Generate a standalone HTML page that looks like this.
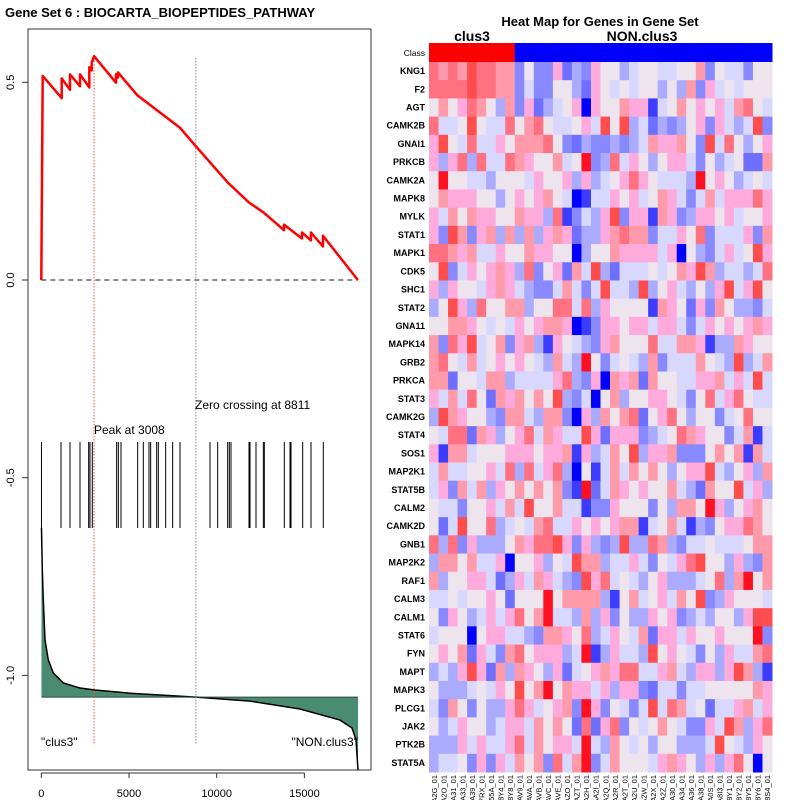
<!DOCTYPE html>
<html><head><meta charset="utf-8">
<style>
html,body{margin:0;padding:0;background:#fff;}
svg{display:block;font-family:"Liberation Sans",sans-serif;}
</style></head>
<body>
<svg id="chart" width="800" height="800" viewBox="0 0 800 800" xmlns="http://www.w3.org/2000/svg">
  <rect x="0" y="0" width="800" height="800" fill="#fff"/>
  <text x="5" y="17" font-size="13" font-weight="bold">Gene Set  6 : BIOCARTA_BIOPEPTIDES_PATHWAY</text>
  <rect x="28" y="29" width="343" height="741" fill="none" stroke="#333" stroke-width="1"/>
  <g id="ytick-g"></g>
  <g id="xtick-g"></g>
  <g id="metric-g"></g>
  <g id="hits-g"></g>
  <g id="es-g"></g>
  <text x="94" y="434" font-size="12">Peak at 3008</text>
  <text x="195" y="409" font-size="12">Zero crossing at 8811</text>
  <text x="41" y="746" font-size="12">"clus3"</text>
  <text x="358" y="746" font-size="12" text-anchor="end">"NON.clus3"</text>

  <text x="600" y="26" font-size="13" font-weight="bold" text-anchor="middle">Heat Map for Genes in Gene Set</text>
  <text x="472" y="41" font-size="14" font-weight="bold" text-anchor="middle">clus3</text>
  <text x="642" y="41" font-size="14" font-weight="bold" text-anchor="middle">NON.clus3</text>
  <text x="425" y="56" font-size="8.5" text-anchor="end">Class</text>
  <g id="heat-g"></g>
</svg>
<script>
// ---- Enrichment plot data ----
const esRanks = [0,0,80,1163,1163,1636,1636,2206,2206,2737,2737,2873,2873,3008,4259,4259,4373,4373,5456,7907,8811,10644,11841,12696,13836,13836,14862,14862,15375,15375,16059,16059,18050];
const esValues = [0,0.0,0.516,0.460,0.510,0.481,0.520,0.490,0.520,0.487,0.538,0.530,0.550,0.566,0.499,0.520,0.512,0.525,0.468,0.385,0.338,0.246,0.196,0.170,0.126,0.140,0.105,0.120,0.100,0.120,0.085,0.112,0];
const hitRanks = [10,1123,1636,2206,2700,2776,2909,4296,4392,4544,5494,5816,6140,6235,6577,6672,7090,7489,7907,9617,10055,10625,10720,10815,11841,11898,12240,12658,12715,13855,14180,14237,14902,15377,16077];
const metricRanks = [10,57,114,211,400,684,1254,2206,3061,5057,8820,11899,14749,17030,17714,17942,18056];
const metricValues = [-0.627,-0.733,-0.809,-0.910,-0.961,-0.994,-1.019,-1.032,-1.037,-1.045,-1.055,-1.065,-1.085,-1.113,-1.133,-1.163,-1.239];
const metricBaseline = -1.055;
const peakRank = 3008;
const zeroRank = 8811;
const xTicks = [0,5000,10000,15000];
const yTicks = [0.5,0.0,-0.5,-1.0];
const yTickLabels = ["0.5","0.0","-0.5","-1.0"];

// ---- Heatmap data (index 0..11 on palette, 6 = neutral) ----
const genes = ["KNG1","F2","AGT","CAMK2B","GNAI1","PRKCB","CAMK2A","MAPK8","MYLK","STAT1","MAPK1","CDK5","SHC1","STAT2","GNA11","MAPK14","GRB2","PRKCA","STAT3","CAMK2G","STAT4","SOS1","MAP2K1","STAT5B","CALM2","CAMK2D","GNB1","MAP2K2","RAF1","CALM3","CALM1","STAT6","FYN","MAPT","MAPK3","PLCG1","JAK2","PTK2B","STAT5A"];
const samples = ["A2G_01","A2O_01","AA31_01","AA33_01","AA39_01","A7RX_01","A55A_01","A8Y4_01","A8Y8_01","AAV9_01","AAVA_01","AAVB_01","AAVC_01","AAVE_01","AAZO_01","AAZT_01","AA2H_01","AA2I_01","AA2Q_01","AA2R_01","AA2T_01","AA2U_01","AA2W_01","AA2X_01","AA2Z_01","AA30_01","AA34_01","AA36_01","AA38_01","AA0S_01","A8I3_01","A8Y1_01","A8Y2_01","A8Y5_01","A8Y6_01","A8S4_01"];
const classes = [1,1,1,1,1,1,1,1,1,0,0,0,0,0,0,0,0,0,0,0,0,0,0,0,0,0,0,0,0,0,0,0,0,0,0,0];
const heatValues = [
[9,8,9,8,10,9,9,8,8,3,6,3,3,7,2,4,3,7,6,6,4,5,6,6,5,5,6,6,8,3,6,5,5,3,6,6],
[9,9,9,9,10,9,9,8,8,3,5,3,3,6,6,4,2,7,6,5,6,5,6,6,4,6,4,8,3,7,5,6,5,6,6,6],
[6,8,6,7,9,8,6,4,8,3,7,2,4,5,6,7,0,7,6,6,8,7,7,1,5,6,8,6,7,6,7,5,8,9,6,5],
[9,5,5,6,10,6,5,5,9,6,8,9,6,5,5,6,7,5,10,6,10,4,5,2,4,3,4,6,7,3,7,5,4,5,10,3],
[7,10,6,5,9,5,5,7,6,8,8,8,9,6,3,2,4,3,3,4,3,4,5,8,7,7,8,6,3,10,5,9,6,4,6,7],
[7,4,7,9,4,9,5,5,9,8,7,6,6,8,5,6,11,3,4,9,5,7,6,4,6,7,7,5,3,6,4,5,6,2,2,8],
[6,11,6,6,5,5,4,6,6,6,5,7,6,6,7,4,7,4,5,6,7,9,7,6,5,5,5,4,11,6,7,6,4,5,6,5],
[6,8,7,7,7,6,6,4,6,7,6,7,8,6,5,0,1,5,5,7,6,7,5,6,8,7,5,3,5,8,5,7,7,7,9,7],
[7,5,8,6,8,7,7,6,6,8,7,7,4,9,1,3,5,4,7,10,3,7,7,1,8,7,3,4,7,7,6,7,5,6,6,7],
[7,3,10,8,3,7,8,4,8,4,8,4,7,8,7,2,4,4,7,8,9,8,8,3,5,5,7,6,9,3,5,5,5,7,3,8],
[9,9,8,7,8,5,5,7,6,6,8,7,7,6,6,0,4,6,6,8,7,7,7,7,5,7,0,6,4,3,5,7,5,6,10,7],
[6,10,3,5,7,6,7,8,7,4,9,3,6,7,2,8,5,10,4,2,5,5,5,6,5,6,8,7,10,8,4,5,5,4,5,9],
[7,4,7,6,6,5,7,8,7,5,4,3,3,5,8,5,3,5,10,5,5,4,10,4,6,7,5,4,6,4,7,10,5,7,10,6],
[4,6,10,7,4,9,6,6,8,8,4,6,6,9,9,5,9,4,7,6,6,6,6,1,8,7,6,2,7,3,8,6,4,4,3,5],
[6,6,8,8,7,6,5,6,5,7,6,7,8,8,7,0,1,3,7,7,6,7,7,5,7,7,5,3,5,7,6,7,6,7,8,7],
[8,3,9,7,10,5,6,8,3,7,8,4,1,7,6,5,4,3,7,8,6,6,6,9,5,5,8,8,7,1,4,4,8,7,6,6],
[8,9,6,5,8,5,6,7,6,7,6,5,4,8,5,4,11,6,3,5,6,5,4,8,3,5,5,5,8,6,5,4,10,4,5,8],
[8,8,2,6,6,5,8,8,4,5,5,5,5,7,9,4,3,7,0,8,7,8,2,8,6,6,5,5,7,7,8,5,7,5,10,5],
[7,5,8,5,9,6,2,8,7,8,6,8,6,10,4,3,5,0,6,8,4,6,6,7,7,6,5,3,6,9,5,7,9,6,5,5],
[4,10,8,7,6,6,4,3,8,8,5,4,8,8,3,0,7,4,8,6,8,9,2,6,7,9,6,4,6,6,3,5,6,9,6,6],
[6,5,9,9,2,8,7,4,6,7,9,5,8,7,5,5,10,7,2,7,7,7,3,4,5,6,9,8,7,6,6,3,5,8,1,5],
[7,1,8,8,5,6,6,6,7,7,7,6,7,7,8,1,7,4,5,8,6,10,4,7,7,8,3,3,3,6,8,6,8,1,8,5],
[5,8,5,5,6,6,7,5,9,4,9,5,7,9,4,0,6,1,5,8,5,8,6,8,6,4,6,7,7,10,5,4,6,7,4,8],
[5,7,3,8,5,8,4,7,6,8,6,8,6,8,3,1,11,2,5,8,7,6,7,6,6,8,5,4,2,8,6,6,10,5,7,4],
[6,5,5,3,6,6,7,5,8,5,10,6,6,8,5,5,1,3,3,7,6,6,6,3,6,4,8,8,6,11,7,4,6,7,8,6],
[6,2,5,10,6,6,9,4,5,6,5,8,9,5,5,7,6,7,6,7,8,8,1,5,6,8,5,1,4,3,6,7,7,9,8,6],
[9,4,9,3,7,4,4,4,6,8,7,9,9,10,7,3,7,4,3,4,10,4,4,9,8,4,3,5,5,6,5,5,5,6,8,8],
[4,8,8,6,8,5,5,7,0,6,6,7,4,6,5,10,8,8,4,5,5,7,5,3,6,5,7,9,10,6,6,4,7,4,3,8],
[8,4,6,6,7,7,5,2,4,7,5,8,7,5,4,3,10,7,9,5,6,5,4,6,7,4,4,4,5,6,9,4,8,11,6,8],
[5,5,6,5,6,6,7,6,2,6,6,6,11,6,8,8,8,8,4,1,6,8,5,6,7,5,8,6,10,3,4,7,6,6,6,5],
[6,3,7,6,4,5,7,5,7,9,6,8,11,5,5,4,8,4,7,3,6,4,4,7,6,7,3,4,5,4,6,6,4,7,10,10],
[5,6,6,6,0,6,7,7,5,5,4,3,8,8,7,6,9,4,5,7,6,5,8,2,7,7,5,7,6,6,7,6,6,6,11,3],
[6,7,6,8,2,7,5,3,8,9,6,7,7,7,4,5,11,1,4,7,5,5,4,10,6,7,6,5,3,6,4,7,5,5,8,9],
[4,5,4,7,10,7,2,8,4,8,7,6,4,7,2,5,6,7,8,7,9,9,5,5,7,8,5,4,7,7,4,7,10,8,4,1],
[6,4,4,4,5,6,5,7,6,10,6,8,11,6,8,7,7,5,7,4,7,7,3,2,5,5,3,5,5,6,6,6,6,6,8,7],
[5,3,8,6,3,6,4,4,7,9,7,5,6,7,8,3,11,7,3,6,5,3,5,10,5,9,8,5,6,2,5,5,7,8,5,7],
[6,4,5,7,6,6,4,5,7,7,5,8,6,8,6,2,9,2,7,9,3,6,5,6,8,6,5,3,3,7,5,10,8,4,7,9],
[4,4,4,7,5,7,5,5,7,9,5,8,6,7,7,5,11,5,4,8,6,5,6,4,6,6,4,4,4,5,10,6,5,4,7,6],
[4,5,5,6,3,7,3,7,5,8,6,8,3,9,5,8,11,3,5,8,6,6,6,5,7,8,7,6,4,7,4,7,9,6,0,6]
];
const palette = ["#0000ff","#3c3cff","#6e6eff","#8888ff","#aaaaff","#d8d8ff","#eee4ee","#ffaadd","#ff9aaa","#ff7080","#ff4c4c","#ff1020"];

const NS = "http://www.w3.org/2000/svg";
function mk(tag, attrs, parent){ const e=document.createElementNS(NS,tag); for(const k in attrs) e.setAttribute(k,attrs[k]); parent.appendChild(e); return e; }

const xS = r => 41.3 + r*0.01754;
const yS = v => 280 - v*395.4;

const yg = document.getElementById('ytick-g');
yTicks.forEach((v,i)=>{
  const t = mk('line',{x1:22,x2:28,y1:yS(v),y2:yS(v),stroke:'#333'},yg);
  
  
  const l = mk('text',{x:0,y:0,'font-size':11,'text-anchor':'middle',transform:`translate(14,${yS(v)}) rotate(-90)`},yg);
  l.textContent = yTickLabels[i];
  
  
});
const xg = document.getElementById('xtick-g');
const xl = mk('line',{x1:xS(xTicks[0]),x2:xS(xTicks[xTicks.length-1]),y1:773,y2:773,stroke:'#333'},xg);


xTicks.forEach(v=>{
  const t = mk('line',{x1:xS(v),x2:xS(v),y1:773,y2:778,stroke:'#333'},xg);
  
  
  const l = mk('text',{x:xS(v),y:797,'font-size':11,'text-anchor':'middle'},xg);
  l.textContent = String(v);
  
  
});

const mg = document.getElementById('metric-g');
let poly = `${xS(metricRanks[0])},${yS(metricBaseline)} `;
metricRanks.forEach((r,i)=>{ poly += `${xS(r)},${yS(metricValues[i])} `; });
poly += `${xS(metricRanks[metricRanks.length-1])},${yS(metricBaseline)}`;
const area = mk('polygon',{points:poly,fill:'#4a8c72',stroke:'none'},mg);


const mline = mk('polyline',{points:metricRanks.map((r,i)=>`${xS(r)},${yS(metricValues[i])}`).join(' '),fill:'none',stroke:'#000','stroke-width':1.5},mg);


const bl = mk('line',{x1:xS(metricRanks[0]),x2:xS(metricRanks[metricRanks.length-1]),y1:yS(metricBaseline),y2:yS(metricBaseline),stroke:'#2c4a3e','stroke-width':1},mg);



const hg = document.getElementById('hits-g');
hitRanks.forEach(r=>{
  const h = mk('line',{x1:xS(r),x2:xS(r),y1:442,y2:528,stroke:'#000','stroke-width':1},hg);
  
  
});

const eg = document.getElementById('es-g');
const zl = mk('line',{x1:xS(0),x2:xS(esRanks[esRanks.length-1]),y1:yS(0),y2:yS(0),stroke:'#666','stroke-width':1.5,'stroke-dasharray':'5,4'},eg);


const pl = mk('line',{x1:xS(peakRank),x2:xS(peakRank),y1:58,y2:745,stroke:'#ff5555','stroke-width':1,'stroke-dasharray':'1.5,1.5'},eg);


const zc = mk('line',{x1:xS(zeroRank),x2:xS(zeroRank),y1:58,y2:745,stroke:'#888','stroke-width':1,'stroke-dasharray':'1.5,1.5'},eg);


const es = mk('polyline',{points:esRanks.map((r,i)=>`${xS(r)},${yS(esValues[i])}`).join(' '),fill:'none',stroke:'#ff0000','stroke-width':2.5,'stroke-linejoin':'round'},eg);



const hm = document.getElementById('heat-g');
const hx0=429, hx1=772, hy0=62, hy1=772;
const cw=(hx1-hx0)/samples.length, rh=(hy1-hy0)/genes.length;
classes.forEach((c,j)=>{
  const r = mk('rect',{x:hx0+j*cw,y:43,width:cw+0.5,height:19,fill:c?'#ff0000':'#0000ff'},hm);
  
  
});
heatValues.forEach((row,i)=>{
  row.forEach((v,j)=>{
    const r = mk('rect',{x:hx0+j*cw,y:hy0+i*rh,width:cw+0.5,height:rh+0.5,fill:palette[v]},hm);
    
    
  });
  const l = mk('text',{x:425,y:hy0+i*rh+rh/2+3,'font-size':9,'font-weight':'bold','text-anchor':'end'},hm);
  l.textContent = genes[i];
  
  
});
samples.forEach((s,j)=>{
  const cx = hx0+j*cw+cw/2+3;
  const l = mk('text',{x:0,y:0,'font-size':7.5,'text-anchor':'end',transform:`translate(${cx},775) rotate(-90)`},hm);
  l.textContent = s;
  
  
});
</script>
</body></html>
